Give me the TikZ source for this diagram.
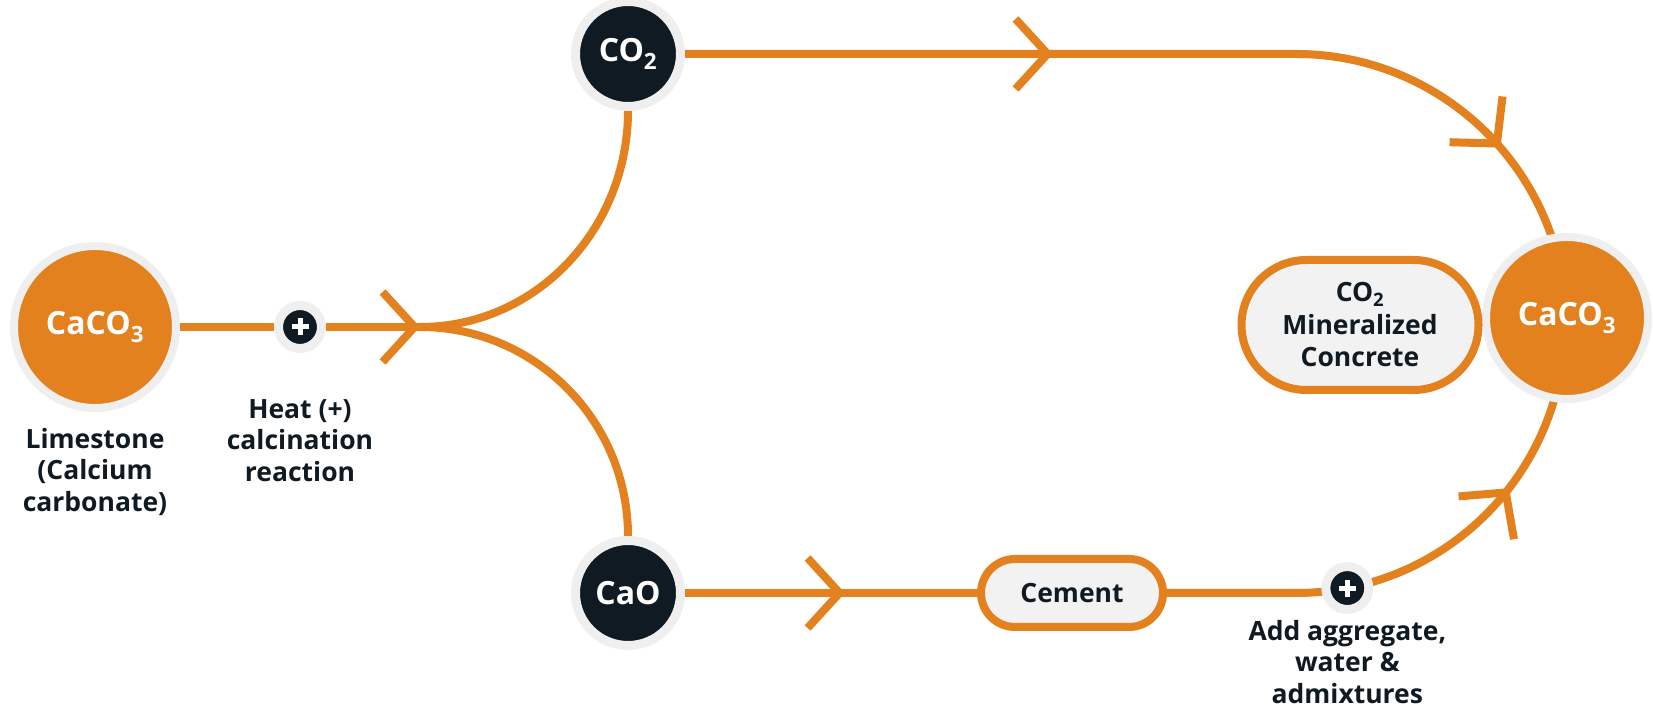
\documentclass[tikz,border=0pt]{standalone}
\usepackage{fontspec}
\setmainfont{Open Sans}
\usepackage{tikz}
\usetikzlibrary{arrows.meta,positioning,decorations.markings,backgrounds}

\definecolor{flame}{HTML}{E3811F}
\definecolor{ink}{HTML}{101A23}
\definecolor{halo}{HTML}{EFEFEF}
\definecolor{paper}{HTML}{F2F2F2}

\tikzset{
  chev/.tip={Straight Barb[length=32pt,width=70pt,line width=8pt]},
  flow/.style={draw=flame, line width=8pt},
  tipat/.style={postaction={decorate,decoration={markings,mark=at position #1 with {\arrow{chev}}}}},
  bigdot/.style={circle, fill=flame, draw=halo, line width=8pt, minimum size=162pt, inner sep=0pt,
    text=white, font=\fontsize{32}{36}\selectfont\bfseries},
  darkdot/.style={circle, fill=ink, draw=halo, line width=9pt, minimum size=105pt, inner sep=0pt,
    text=white, font=\fontsize{32}{36}\selectfont\bfseries},
  plusdot/.style={circle, fill=ink, draw=halo, line width=9pt, minimum size=43pt, inner sep=0pt,
    path picture={\draw[white, line width=5pt]
      ([xshift=-8.5pt]path picture bounding box.center) -- ([xshift=8.5pt]path picture bounding box.center)
      ([yshift=-8.5pt]path picture bounding box.center) -- ([yshift=8.5pt]path picture bounding box.center);}},
  pill/.style={rectangle, fill=paper, draw=flame, line width=8pt, inner sep=0pt,
    text=ink, font=\fontsize{26.5}{32.5}\selectfont\bfseries, align=center},
  lbl/.style={text=ink, font=\fontsize{26.5}{31.5}\selectfont\bfseries, align=center, inner sep=0pt},
}

\begin{document}
\begin{tikzpicture}[x=1pt,y=1pt]
  \useasboundingbox (0,0) rectangle (1653,708);

  % nodes
  \node[bigdot] (limestone) at (95,381) {CaCO\textsubscript{3}};
  \node[plusdot] (heat) at (300,381) {};
  \coordinate (fork) at (420,381);
  \node[darkdot] (co2) at (628,654) {CO\textsubscript{2}};
  \node[darkdot] (cao) at (628,115) {CaO};
  \node[pill, minimum width=182pt, minimum height=68pt, rounded corners=34pt] (cement) at (1072,115) {Cement};
  \coordinate (arcc) at (1296,384);
  \coordinate (bendtop) at (1296,654);
  \coordinate (bendlow) at (1296,115);
  \node[plusdot] (mix) at ([shift={(-79:269)}]arcc) {};
  \node[bigdot] (caco3) at (1567,390) {CaCO\textsubscript{3}};
  \node[pill, minimum width=237pt, minimum height=130pt, rounded corners=65pt] (concrete) at (1360,383)
    {CO\textsubscript{2}\\Mineralized\\Concrete};

  % labels
  \node[lbl, below=16pt of limestone] (limelbl) {Limestone\\(Calcium\\carbonate)};
  \node[lbl, below=46pt of heat] (heatlbl) {Heat (+)\\calcination\\reaction};
  \node[lbl, below=6pt of mix] (mixlbl) {Add aggregate,\\water \&\\admixtures};

  % connectors
  \begin{scope}[on background layer]
    \draw[flow] (limestone) -- (heat);
    \draw[flow, tipat=1] (heat) -- (fork);
    \draw[flow] (fork) to[out=0, in=-90] (co2);
    \draw[flow] (fork) to[out=0, in=90] (cao);
    \draw[flow, tipat=368pt, tipat=843pt] (co2) -- (bendtop) arc[start angle=90, end angle=0, radius=270];
    \draw[flow, tipat=160pt] (cao) -- (cement);
    \draw[flow, tipat=375pt] (cement) -- (bendlow) arc[start angle=-90, end angle=0, radius=269];
  \end{scope}
\end{tikzpicture}
\end{document}
